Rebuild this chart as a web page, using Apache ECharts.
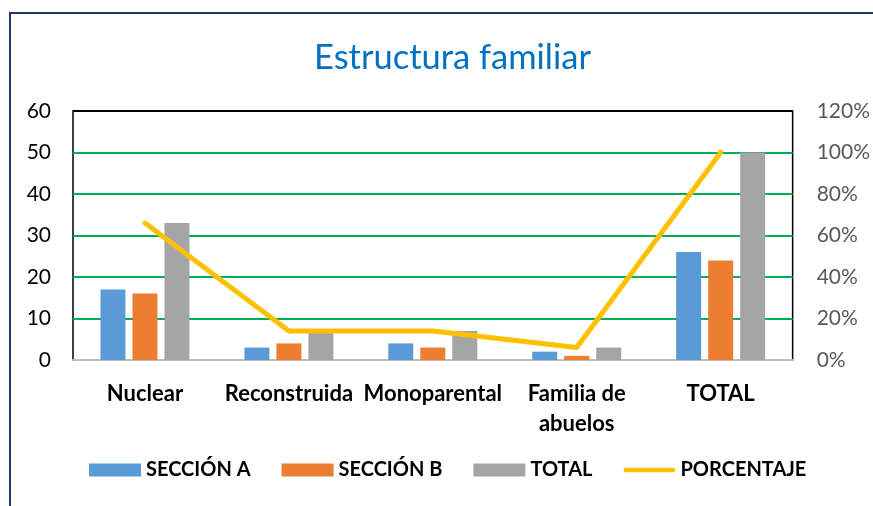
<!DOCTYPE html>
<html>
<head>
    <meta charset="utf-8">
    <title>Estructura familiar</title>
    <script src="https://cdn.jsdelivr.net/npm/echarts@6/dist/echarts.min.js"></script>
    <style>
        body { margin: 0; background: #fff; }
        #frame { position: absolute; left: 9px; top: 12px; width: 900px; height: 600px;
                 border-left: 2px solid #1F3864; border-top: 2px solid #1F3864; }
        #chart1 { position: absolute; left: 0; top: 0; width: 873px; height: 506px; }
    </style>
</head>
<body>
<div id="frame"></div>
<div id="chart1"></div>
<script>
    // datos del gráfico
    var categorias = ['Nuclear', 'Reconstruida', 'Monoparental', 'Familia de\nabuelos', 'TOTAL'];
    var seccionA = [17, 3, 4, 2, 26];
    var seccionB = [16, 4, 3, 1, 24];
    var total = [33, 7, 7, 3, 50];
    var porcentaje = [0.66, 0.14, 0.14, 0.06, 1.00];

    var fuente = 'Lato, "Open Sans", sans-serif';
    var myChart1 = echarts.init(document.getElementById('chart1'));
    myChart1.setOption({
        animation: false,
        title: {
            text: 'Estructura familiar',
            left: 309,
            top: 35,
            textStyle: { color: '#0070C0', fontSize: 34.5, fontWeight: 'normal', fontFamily: fuente }
        },
        legend: {
            bottom: 21,
            left: 84,
            itemWidth: 52,
            itemHeight: 13,
            itemGap: 31,
            textStyle: { color: '#000', fontSize: 20, fontWeight: 'bold', fontFamily: fuente },
            data: [
                { name: 'SECCIÓN A', icon: 'rect' },
                { name: 'SECCIÓN B', icon: 'rect' },
                { name: 'TOTAL', icon: 'rect' },
                { name: 'PORCENTAJE', icon: 'path://M2.5,0 L52.5,0 A2.5,2.5 0 0 1 52.5,5 L2.5,5 A2.5,2.5 0 0 1 2.5,0 Z' }
            ]
        },
        grid: {
            left: 73, right: 80, top: 111, bottom: 146,
            show: true, borderColor: '#000', borderWidth: 1.5
        },
        xAxis: {
            type: 'category',
            data: categorias,
            axisTick: { show: false },
            axisLine: { lineStyle: { color: '#BFBFBF', width: 2 } },
            axisLabel: {
                interval: 0, margin: 19, lineHeight: 30,
                color: '#000', fontSize: 22, fontWeight: 'bold', fontFamily: fuente
            }
        },
        yAxis: [
            {
                type: 'value', min: 0, max: 60, interval: 10,
                axisLine: { show: false },
                axisLabel: { margin: 22, color: '#000', fontSize: 21, fontFamily: fuente },
                splitLine: { lineStyle: { color: ['#BFBFBF', '#00B050', '#00B050', '#00B050', '#00B050', '#00B050', '#000'], width: 2 } }
            },
            {
                type: 'value', min: 0, max: 1.2, interval: 0.2,
                axisLine: { show: false },
                splitLine: { show: false },
                axisLabel: {
                    margin: 24, color: '#595959', fontSize: 21, fontFamily: fuente,
                    formatter: function (v) { return Math.round(v * 100) + '%'; }
                }
            }
        ],
        series: [
            { name: 'SECCIÓN A', type: 'bar', data: seccionA, barWidth: 25, barGap: '28%',
              itemStyle: { color: '#5B9BD5' } },
            { name: 'SECCIÓN B', type: 'bar', data: seccionB, barWidth: 25, barGap: '28%',
              itemStyle: { color: '#ED7D31' } },
            { name: 'TOTAL', type: 'bar', data: total, barWidth: 25, barGap: '28%',
              itemStyle: { color: '#A5A5A5' } },
            { name: 'PORCENTAJE', type: 'line', yAxisIndex: 1, data: porcentaje,
              symbol: 'none', lineStyle: { color: '#FFC000', width: 5, cap: 'round' },
              itemStyle: { color: '#FFC000' } }
        ]
    });
</script>
</body>
</html>
